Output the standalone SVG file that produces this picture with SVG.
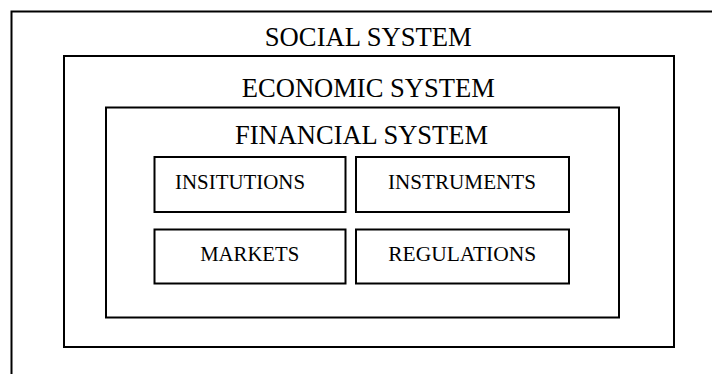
<svg xmlns="http://www.w3.org/2000/svg" width="712" height="374" viewBox="0 0 712 374">
<style>
.box{fill:none;stroke:#000;stroke-width:2}
.big{font-family:"Liberation Serif","Times New Roman",serif;font-size:28px;fill:#000;text-anchor:middle}
.sm{font-family:"Liberation Serif","Times New Roman",serif;font-size:20.5px;fill:#000;text-anchor:middle}
</style>
<rect width="712" height="374" fill="#fff"/>
<g id="social">
<rect class="box" x="11.5" y="11.5" width="740" height="400"/>
<text class="big" x="368.3" y="45.5" textLength="207" lengthAdjust="spacingAndGlyphs">SOCIAL SYSTEM</text>
</g>
<g id="economic">
<rect class="box" x="64" y="56" width="610" height="291"/>
<text class="big" x="368.3" y="96.5" textLength="253" lengthAdjust="spacingAndGlyphs">ECONOMIC SYSTEM</text>
</g>
<g id="financial">
<rect class="box" x="106" y="107.5" width="513" height="210"/>
<text class="big" x="361.5" y="143.5" textLength="253" lengthAdjust="spacingAndGlyphs">FINANCIAL SYSTEM</text>
</g>
<g id="institutions">
<rect class="box" x="154.5" y="157" width="191" height="55"/>
<text class="sm" x="240" y="188.5" textLength="130" lengthAdjust="spacingAndGlyphs">INSITUTIONS</text>
</g>
<g id="instruments">
<rect class="box" x="356" y="157" width="213" height="55"/>
<text class="sm" x="462" y="188.5" textLength="148" lengthAdjust="spacingAndGlyphs">INSTRUMENTS</text>
</g>
<g id="markets">
<rect class="box" x="154.5" y="229.5" width="191" height="54"/>
<text class="sm" x="249.7" y="260.7" textLength="99" lengthAdjust="spacingAndGlyphs">MARKETS</text>
</g>
<g id="regulations">
<rect class="box" x="356" y="229.5" width="213" height="54"/>
<text class="sm" x="462.2" y="260.7" textLength="148" lengthAdjust="spacingAndGlyphs">REGULATIONS</text>
</g>
<g id="connectors"></g>
</svg>
